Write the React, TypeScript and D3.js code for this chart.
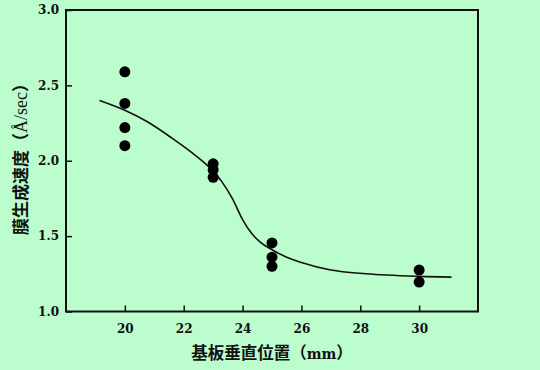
import { useRef, useEffect } from "react";
import * as d3 from "d3";

const width = 540;
const height = 370;
const BG = "#bcfdcd";

// measured points (mm, Å/sec)
const posX = [20, 20, 20, 20, 23, 23, 23, 25, 25, 25, 30, 30];
const rate = [2.59, 2.38, 2.22, 2.1, 1.98, 1.94, 1.89, 1.455, 1.36, 1.3, 1.275, 1.195];

// fitted curve
const fitX = [19.14, 20, 20.75, 21.6, 22.3, 23.0, 23.3, 23.65, 24.0, 24.3, 24.6, 25.0, 25.5, 26.0, 27.0, 28.2, 30, 31.1];
const fitY = [2.4, 2.335, 2.26, 2.15, 2.05, 1.93, 1.86, 1.75, 1.61, 1.52, 1.46, 1.41, 1.36, 1.325, 1.275, 1.25, 1.233, 1.228];

const xTicks = [20, 22, 24, 26, 28, 30];
const yTicks = [1.0, 1.5, 2.0, 2.5, 3.0];

const margin = { left: 66, right: 62, top: 10, bottom: 58.5 };

export default function App() {
  const ref = useRef<SVGSVGElement | null>(null);

  useEffect(() => {
    const svg = d3.select(ref.current);
    svg.selectAll("*").remove();

    svg.append("rect").attr("width", width).attr("height", height).attr("fill", BG);

    const x = d3
      .scaleLinear()
      .domain([18, 32])
      .range([margin.left, width - margin.right]);
    const y = d3
      .scaleLinear()
      .domain([1, 3])
      .range([height - margin.bottom, margin.top]);

    const serif = "'DejaVu Serif', serif";
    const cjk = "'Noto Sans CJK JP', sans-serif";

    // x axis (ticks inward)
    const xAxis = svg
      .append("g")
      .attr("transform", `translate(0,${y(1)})`)
      .call(
        d3
          .axisBottom(x)
          .tickValues(xTicks)
          .tickSizeInner(-6)
          .tickSizeOuter(0)
          .tickPadding(13)
          .tickFormat(d3.format("d"))
      );
    xAxis.select(".domain").remove();
    xAxis.selectAll("line").attr("stroke", "#111").attr("stroke-width", 1.5);
    xAxis
      .selectAll("text")
      .attr("font-family", serif)
      .attr("font-weight", "bold")
      .attr("font-size", 12)
      .attr("fill", "#111");

    const yAxis = svg
      .append("g")
      .attr("transform", `translate(${x(18)},0)`)
      .call(
        d3
          .axisLeft(y)
          .tickValues(yTicks)
          .tickSizeInner(-6)
          .tickSizeOuter(0)
          .tickPadding(7)
          .tickFormat(d3.format(".1f"))
      );
    yAxis.select(".domain").remove();
    yAxis.selectAll("line").attr("stroke", "#111").attr("stroke-width", 1.5);
    yAxis
      .selectAll("text")
      .attr("font-family", serif)
      .attr("font-weight", "bold")
      .attr("font-size", 12)
      .attr("fill", "#111");

    // frame
    svg
      .append("rect")
      .attr("x", x(18))
      .attr("y", y(3))
      .attr("width", x(32) - x(18))
      .attr("height", y(1) - y(3))
      .attr("fill", "none")
      .attr("stroke", "#111")
      .attr("stroke-width", 2);

    // fitted curve
    const fit = fitX.map((v, i) => [v, fitY[i]] as [number, number]);
    const line = d3
      .line<[number, number]>()
      .x((d) => x(d[0]))
      .y((d) => y(d[1]))
      .curve(d3.curveMonotoneX);
    svg
      .append("path")
      .datum(fit)
      .attr("fill", "none")
      .attr("stroke", "#111")
      .attr("stroke-width", 1.6)
      .attr("d", line);

    // points
    svg
      .append("g")
      .selectAll("circle")
      .data(posX.map((v, i) => [v, rate[i]]))
      .join("circle")
      .attr("cx", (d) => x(d[0]))
      .attr("cy", (d) => y(d[1]))
      .attr("r", 5.5)
      .attr("fill", "#000");

    // x title
    const xt = svg
      .append("text")
      .attr("x", 272)
      .attr("y", 359)
      .attr("text-anchor", "middle")
      .attr("font-family", cjk)
      .attr("font-weight", "bold")
      .attr("font-size", 16.5)
      .attr("fill", "#111");
    xt.append("tspan").text("基板垂直位置（");
    xt.append("tspan").attr("font-family", serif).attr("font-size", 14).text("mm");
    xt.append("tspan").text("）");

    // y title
    const yt = svg
      .append("text")
      .attr("transform", `translate(26.5,155) rotate(-90)`)
      .attr("text-anchor", "middle")
      .attr("font-family", cjk)
      .attr("font-weight", "bold")
      .attr("font-size", 17)
      .attr("fill", "#111");
    yt.append("tspan").text("膜生成速度（");
    yt
      .append("tspan")
      .attr("font-family", "'Liberation Serif', serif")
      .attr("font-weight", "normal")
      .attr("font-size", 18)
      .text("Å/sec");
    yt.append("tspan").text("）");
  }, []);

  return (
    <svg
      ref={ref}
      width={width}
      height={height}
      style={{ position: "absolute", left: 0, top: 0, display: "block" }}
    />
  );
}
